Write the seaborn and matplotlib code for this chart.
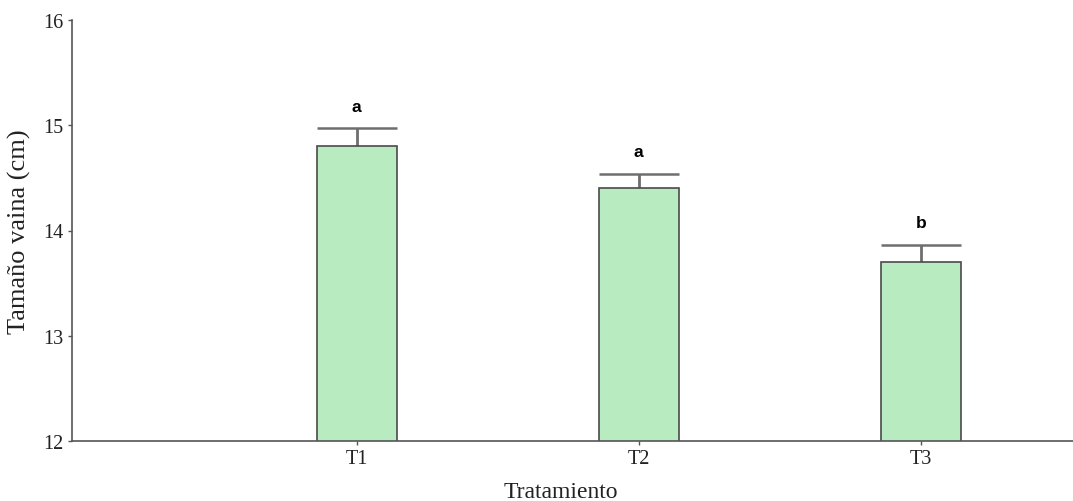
import matplotlib
matplotlib.use("Agg")
import matplotlib.pyplot as plt
import seaborn as sns
import numpy as np

# Pod length per treatment
tratamientos = ["T1", "T2", "T3"]
medias = [14.8, 14.4, 13.7]
errores = [0.17, 0.14, 0.16]
letras = ["a", "a", "b"]
yticks = [12, 13, 14, 15, 16]

ANCHO = 0.284

sns.set_theme(style="white")
plt.rcParams["font.family"] = ["Liberation Serif", "DejaVu Serif"]

fig = plt.figure(figsize=(10.73, 5.02), dpi=100)
ax = fig.add_axes([72 / 1073, 60 / 502, 1 - 72 / 1073, 421 / 502])

sns.barplot(x=tratamientos, y=medias, color="#b8ebc0", saturation=1,
            width=ANCHO, edgecolor="#4a4a4a", linewidth=1.2, ax=ax, zorder=2)

# upper-only error bars with a cap as wide as the bar
pos = np.arange(len(tratamientos))
superior = np.array(medias) + np.array(errores)
ax.vlines(pos, medias, superior, color="#6e6e6e", linewidth=2.0, zorder=1)
ax.hlines(superior, pos - ANCHO / 2, pos + ANCHO / 2, color="#6e6e6e",
          linewidth=1.8, zorder=1)

for x, s, l in zip(pos, superior, letras):
    ax.text(x, s + 0.14, l, ha="center", va="bottom", fontsize=12.5,
            fontweight="bold", color="black",
            family=["Liberation Sans", "DejaVu Sans"])

ax.set_ylim(12, 16)
ax.set_xlim(-1.01, 2.54)
ax.set_yticks(yticks)
ax.set_yticklabels([str(t) for t in yticks])

for side in ["top", "right"]:
    ax.spines[side].set_visible(False)
for side in ["left", "bottom"]:
    ax.spines[side].set_color("#555555")
    ax.spines[side].set_linewidth(1.2)

ax.tick_params(axis="both", which="major", direction="out", length=3, width=1,
               color="#555555", labelsize=14.5, labelcolor="#222222", pad=3,
               left=True, bottom=True)

ax.set_xlabel("Tratamiento", fontsize=17, color="#222222")
ax.xaxis.set_label_coords(0.488, -0.095)
ax.set_ylabel("Tamaño vaina (cm)", fontsize=19, color="#222222", labelpad=9)

fig.savefig("out.png", dpi=100)
